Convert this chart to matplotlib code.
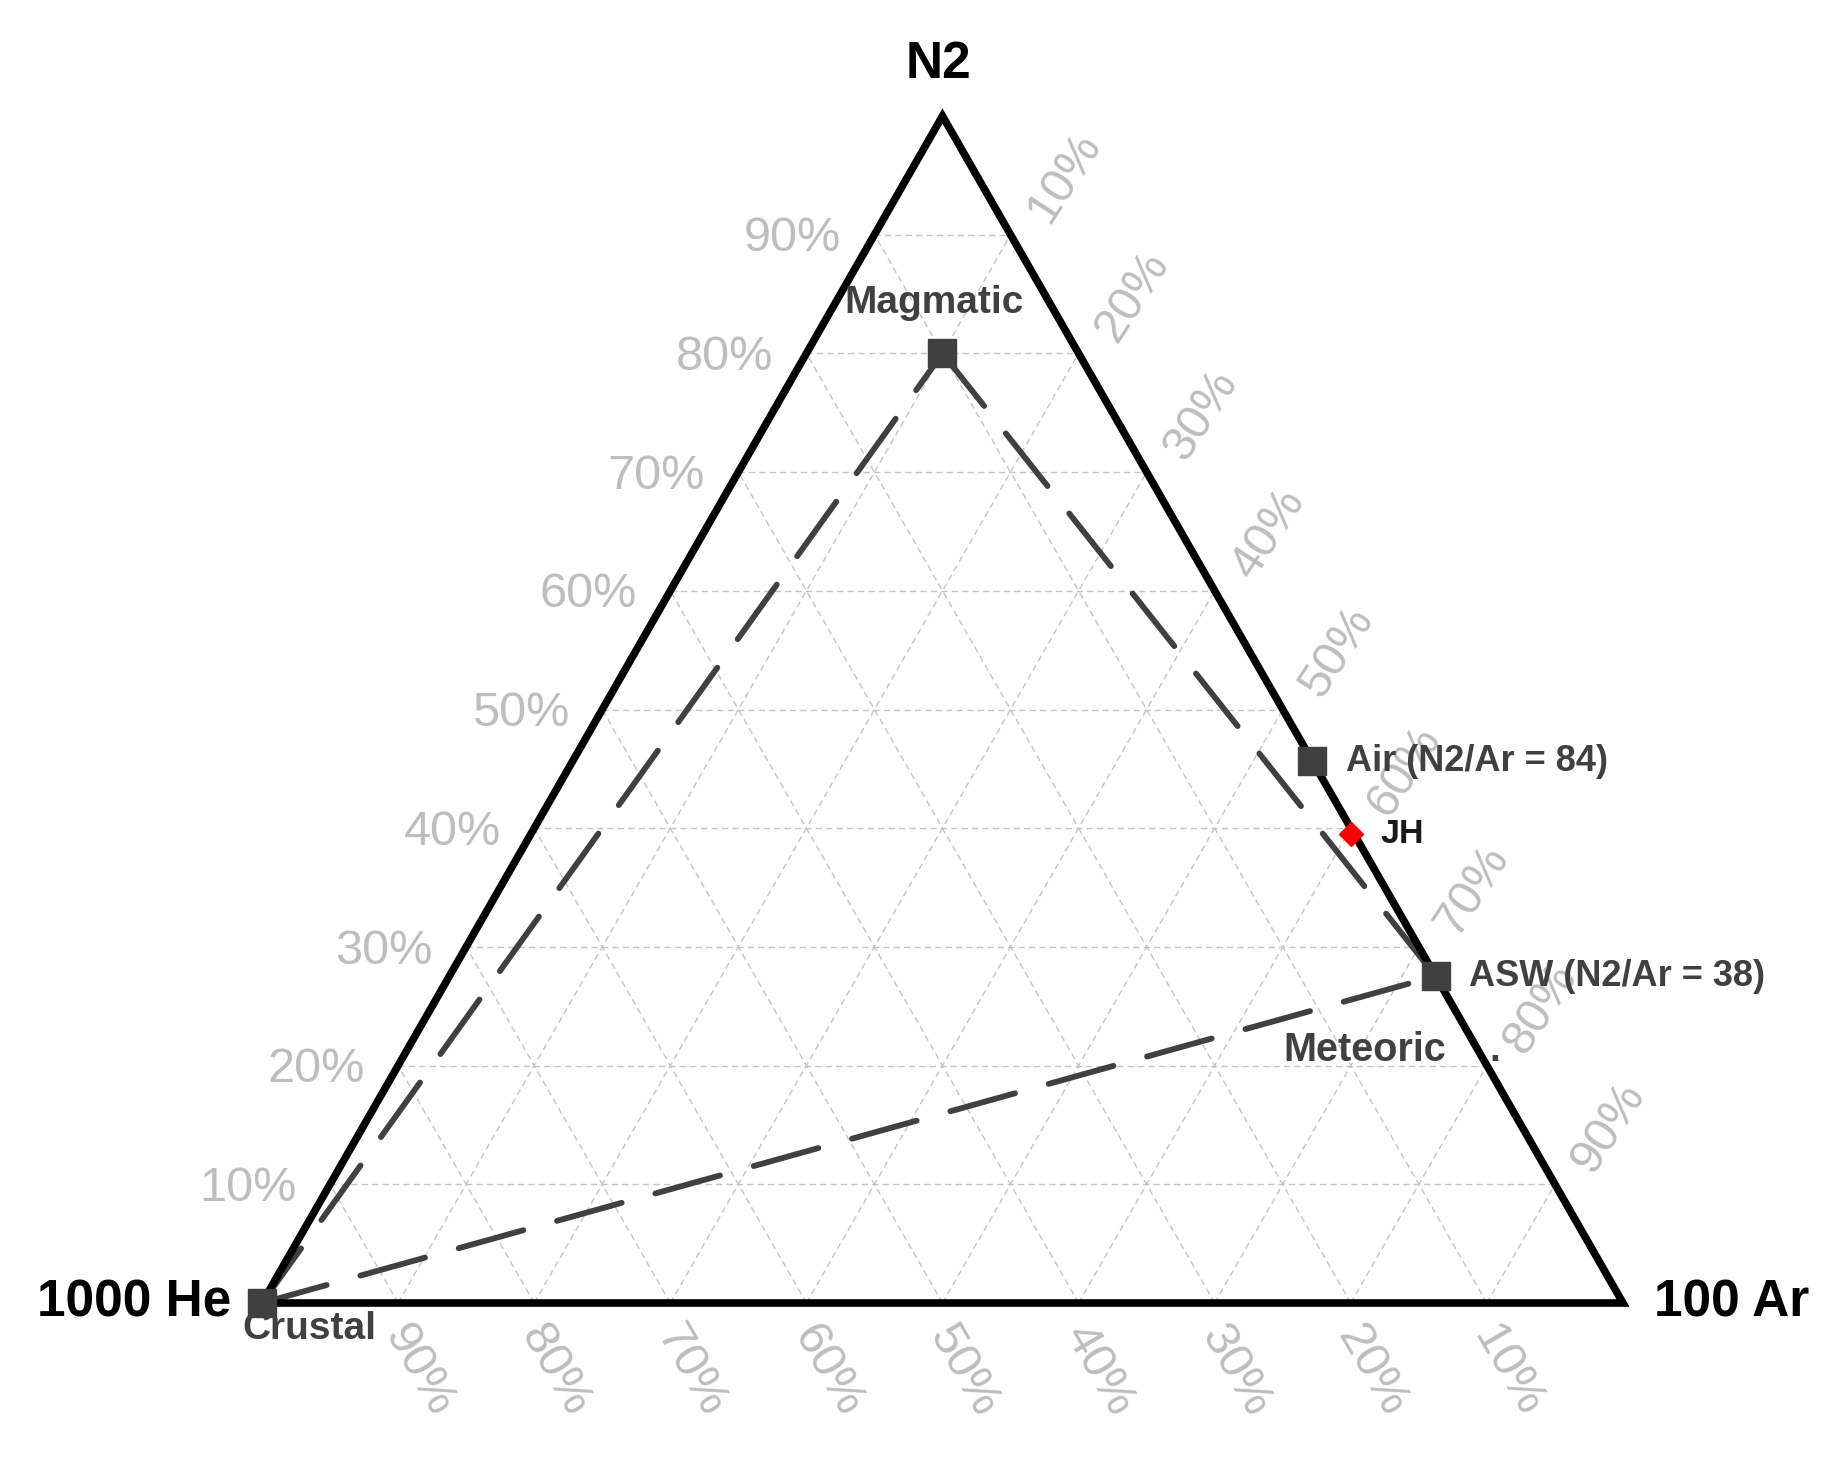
import numpy as np
import matplotlib
matplotlib.use('Agg')
import matplotlib.pyplot as plt

plt.rcParams['font.family'] = ['Liberation Sans', 'DejaVu Sans']

# end members, plotted as N2, 1000*He, 100*Ar
members = ['Crustal', 'Magmatic', 'Air (N2/Ar = 84)', 'ASW (N2/Ar = 38)']
member_n2 = [0, 80, 84, 38]
member_he = [100, 10, 0, 0]
member_ar = [0, 10, 100, 100]

# sample
sample_name = 'JH'
sample_n2 = [39.5]
sample_he = [0.2]
sample_ar = [60.3]

# mixing lines between end members (index pairs)
mixing = [(0, 1), (1, 3), (0, 3)]

ticks = [10, 20, 30, 40, 50, 60, 70, 80, 90]
tick_labels = [f'{t}%' for t in ticks]


def tern(n2, he, ar):
    # ternary -> cartesian, He bottom-left, Ar bottom-right, N2 top
    n2 = np.asarray(n2, dtype=float)
    he = np.asarray(he, dtype=float)
    ar = np.asarray(ar, dtype=float)
    tot = n2 + he + ar
    n2, ar = n2 / tot, ar / tot
    return ar + n2 / 2, n2


W, H, DPI = 1849, 1457, 100
fig = plt.figure(figsize=(W / DPI, H / DPI), dpi=DPI)
# triangle corners: (262,1303) (1623,1303) (942,116) in pixels
ax = fig.add_axes([262 / W, (H - 1303) / H, 1361 / W, 1187 / H])
ax.set_xlim(0, 1)
ax.set_ylim(0, 1)
ax.axis('off')

grid_kw = dict(color='#c4c4c4', lw=1.0, ls=(0, (4.5, 3.0)), zorder=1)
for t in ticks:
    k = t / 100
    ax.plot([k / 2, 1 - k / 2], [k, k], **grid_kw)           # N2
    ax.plot([k, (1 + k) / 2], [0, 1 - k], **grid_kw)         # Ar
    ax.plot([1 - k, (1 - k) / 2], [0, 1 - k], **grid_kw)     # He

# mixing lines
mx, my = tern(member_n2, member_he, member_ar)
for i, j in mixing:
    ax.plot([mx[i], mx[j]], [my[i], my[j]], color='#404040', lw=4.2,
            ls=(0, (11.5, 6.0)), dash_capstyle='round', zorder=3)

# outline
ax.plot([0, 1, 0.5, 0], [0, 0, 1, 0], color='black', lw=5.5,
        solid_joinstyle='miter', clip_on=False, zorder=4)

# tick labels
tick_kw = dict(color='#bebebe', fontsize=35, textcoords='offset points',
               annotation_clip=False)
for t, lab in zip(ticks, tick_labels):
    k = t / 100
    ax.annotate(lab, (k / 2, k), xytext=(-24, -3), ha='right', va='center', **tick_kw)
    ax.annotate(lab, ((1 + k) / 2, 1 - k), xytext=(39, 41), ha='center', va='center',
                rotation=57, **tick_kw)
    ax.annotate(lab, (1 - k, 0), xytext=(15, -49), ha='center', va='center',
                rotation=-60, **tick_kw)

# vertex titles
ax.annotate('N2', (0.5, 1), xytext=(-3, 37), textcoords='offset points', ha='center',
            va='center', fontsize=37, fontweight='bold', annotation_clip=False)
ax.annotate('1000 He', (0, 0), xytext=(-22, 0), textcoords='offset points', ha='right',
            va='center', fontsize=37, fontweight='bold', annotation_clip=False)
ax.annotate('100 Ar', (1, 0), xytext=(22, 0), textcoords='offset points', ha='left',
            va='center', fontsize=37, fontweight='bold', annotation_clip=False)

# end member markers and labels
ax.plot(mx, my, 's', color='#404040', ms=20, clip_on=False, zorder=5)
offsets = [(34, -19, 'center', 28), (-6, 36, 'center', 28),
           (24, 0, 'left', 26), (24, 0, 'left', 26)]
for name, x, y, (dx, dy, ha, fs) in zip(members, mx, my, offsets):
    ax.annotate(name, (x, y), xytext=(dx, dy), textcoords='offset points', ha=ha,
                va='center', fontsize=fs, fontweight='bold', color='#404040',
                annotation_clip=False, zorder=6)

# meteoric label
meteo = tern(20.4, 8.8, 70.8)
ax.annotate('Meteoric', meteo, ha='center', va='baseline', fontsize=28.5,
            fontweight='bold', color='#404040')
ax.annotate('.', meteo, xytext=(94, 0), textcoords='offset points', ha='center',
            va='baseline', fontsize=28, fontweight='bold', color='#404040')

# sample
sx, sy = tern(sample_n2, sample_he, sample_ar)
ax.plot(sx, sy, 'D', color='red', ms=12, zorder=6)
ax.annotate(sample_name, (sx[0], sy[0]), xytext=(21, 0), textcoords='offset points',
            ha='left', va='center', fontsize=24.5, fontweight='bold', color='#1a1a1a')

fig.savefig('out.png', dpi=DPI, facecolor='white')
